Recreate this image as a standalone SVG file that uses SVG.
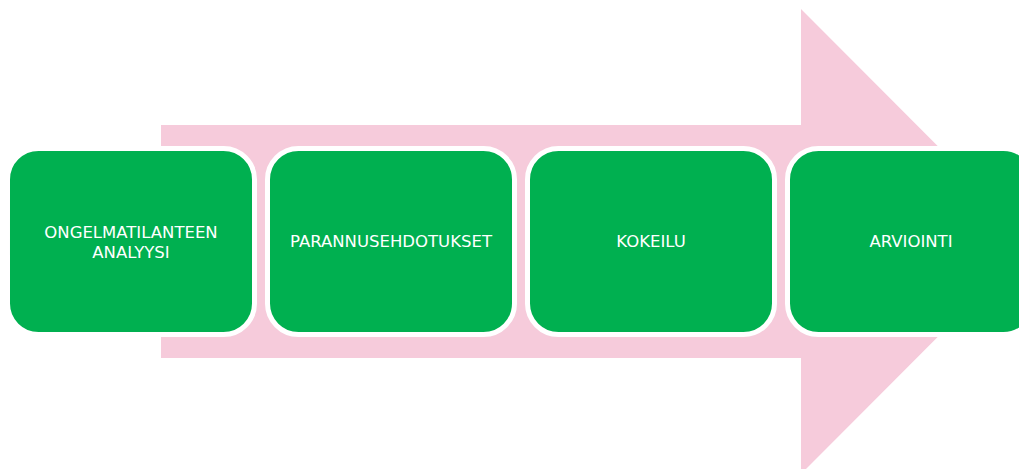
<svg xmlns="http://www.w3.org/2000/svg" width="1019" height="469" viewBox="0 0 1019 469">
<style>
.box{fill:#00B050;stroke:#FFFFFF;stroke-width:5}
.lbl{fill:#FFFFFF;font-family:"DejaVu Sans","Verdana",sans-serif;font-size:16.5px;text-anchor:middle}
</style>
<rect width="1019" height="469" fill="#FFFFFF"/>
<g id="connectors">
<polygon id="arrow" points="161,125 801,125 801,9 1033,241.5 801,474 801,358 161,358" fill="#F6CBDB"/>
</g>
<g id="node1">
<rect class="box" x="7.5" y="148.5" width="247" height="186" rx="31" ry="31"/>
<text class="lbl" x="131" y="238">ONGELMATILANTEEN</text>
<text class="lbl" x="131" y="258">ANALYYSI</text>
</g>
<g id="node2">
<rect class="box" x="267.5" y="148.5" width="247" height="186" rx="31" ry="31"/>
<text class="lbl" x="391" y="247">PARANNUSEHDOTUKSET</text>
</g>
<g id="node3">
<rect class="box" x="527.5" y="148.5" width="247" height="186" rx="31" ry="31"/>
<text class="lbl" x="651" y="247">KOKEILU</text>
</g>
<g id="node4">
<rect class="box" x="787.5" y="148.5" width="247" height="186" rx="31" ry="31"/>
<text class="lbl" x="911" y="247">ARVIOINTI</text>
</g>
</svg>
